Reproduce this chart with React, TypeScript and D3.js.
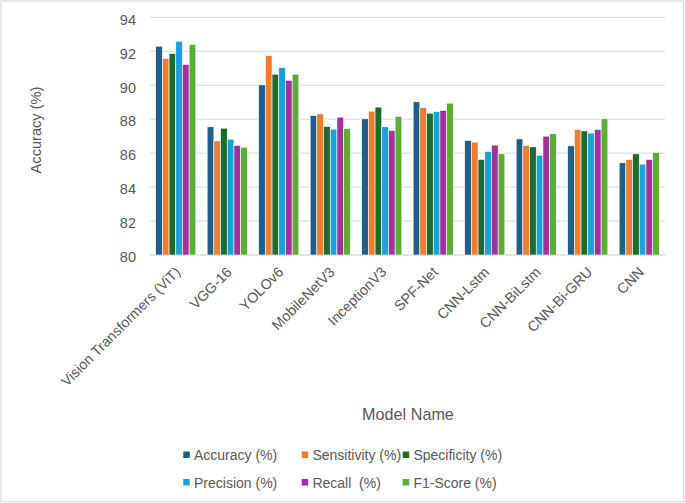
import * as d3 from "d3";

const MODELS = [
  "Vision Transformers (ViT)", "VGG-16", "YOLOv6", "MobileNetV3", "InceptionV3",
  "SPF-Net", "CNN-Lstm", "CNN-BiLstm", "CNN-Bi-GRU", "CNN",
];

const SERIES = ["Accuracy (%)", "Sensitivity (%)", "Specificity (%)", "Precision (%)", "Recall  (%)", "F1-Score (%)"];
const COLORS = ["#1F5F8B", "#ED7D31", "#1E6B2E", "#1BA1DA", "#A2309D", "#5AAD35"];

const ACCURACY    = [92.3, 87.55, 90.02, 88.22, 88.02, 89.02, 86.75, 86.84, 86.43, 85.43];
const SENSITIVITY = [91.57, 86.72, 91.75, 88.31, 88.47, 88.69, 86.65, 86.45, 87.39, 85.63];
const SPECIFICITY = [91.86, 87.47, 90.65, 87.57, 88.71, 88.35, 85.63, 86.37, 87.31, 85.96];
const PRECISION   = [92.59, 86.82, 91.04, 87.41, 87.55, 88.45, 86.1, 85.88, 87.18, 85.35];
const RECALL      = [91.22, 86.45, 90.29, 88.12, 87.33, 88.51, 86.47, 87.0, 87.39, 85.63];
const F1_SCORE    = [92.41, 86.35, 90.65, 87.45, 88.16, 88.94, 85.96, 87.14, 88.02, 86.04];

const VALUES = [ACCURACY, SENSITIVITY, SPECIFICITY, PRECISION, RECALL, F1_SCORE];
const Y_TICKS = [80, 82, 84, 86, 88, 90, 92, 94];

const W = 685, H = 503;
const FONT = "'Liberation Sans', Arial, sans-serif";
const TXT = "#595959";

export default function App() {
  const x = d3.scaleBand<string>().domain(MODELS).range([150, 665]).paddingInner(0.22).paddingOuter(0.11);
  const xs = d3.scaleBand<number>().domain(d3.range(SERIES.length)).range([0, x.bandwidth()]);
  const y = d3.scaleLinear().domain([80, 94]).range([255, 17.3]);

  // legend slots: 3 columns x 2 rows
  const legX = [183.3, 301.7, 402.7];
  const legY = [455, 482.5];

  return (
    <>
      <style>{`body{margin:0}`}</style>
      <svg width={W} height={H} style={{ display: "block", fontFamily: FONT }}>
        <rect x={0} y={0} width={W} height={H} fill="#fff" />
        <rect x={1} y={1} width={W - 2.5} height={H - 2.5} fill="none" stroke="#d9d9d9" strokeWidth={1.2} />

        {Y_TICKS.map(t => (
          <g key={t}>
            <line x1={150} x2={665} y1={y(t)} y2={y(t)} stroke="#d9d9d9" strokeWidth={t === 80 ? 1.6 : 1} />
            <text x={136} y={y(t) + 7.3} textAnchor="end" fontSize={14.5} fill={TXT}>{t}</text>
          </g>
        ))}

        {MODELS.map((m, mi) => (
          <g key={m} transform={`translate(${x(m)},0)`}>
            {VALUES.map((vals, si) => (
              <rect key={si} x={xs(si)} width={xs.bandwidth()} y={y(vals[mi])} height={y(80) - y(vals[mi])}
                fill={COLORS[si]} stroke="#fff" strokeWidth={0.6} />
            ))}
          </g>
        ))}

        {MODELS.map(m => {
          const cx = (x(m) as number) + x.bandwidth() / 2 + 5.5;
          const cy = 273;
          return (
            <text key={m} x={cx} y={cy} textAnchor="end" fontSize={14.3} fill={TXT}
              transform={`rotate(-45,${cx},${cy})`}>{m}</text>
          );
        })}

        <text transform="translate(41,130) rotate(-90)" textAnchor="middle" fontSize={14.6} fill={TXT}>Accuracy (%)</text>
        <text x={408} y={420} textAnchor="middle" fontSize={16.2} fill={TXT}>Model Name</text>

        {SERIES.map((s, i) => {
          const lx = legX[i % 3], ly = legY[Math.floor(i / 3)];
          return (
            <g key={s}>
              <rect x={lx} y={ly - 3.5} width={6.5} height={6.5} fill={COLORS[i]} />
              <text x={lx + 10.7} y={ly + 5} fontSize={14} fill={TXT} style={{ whiteSpace: "pre" }}>{s}</text>
            </g>
          );
        })}
      </svg>
    </>
  );
}
